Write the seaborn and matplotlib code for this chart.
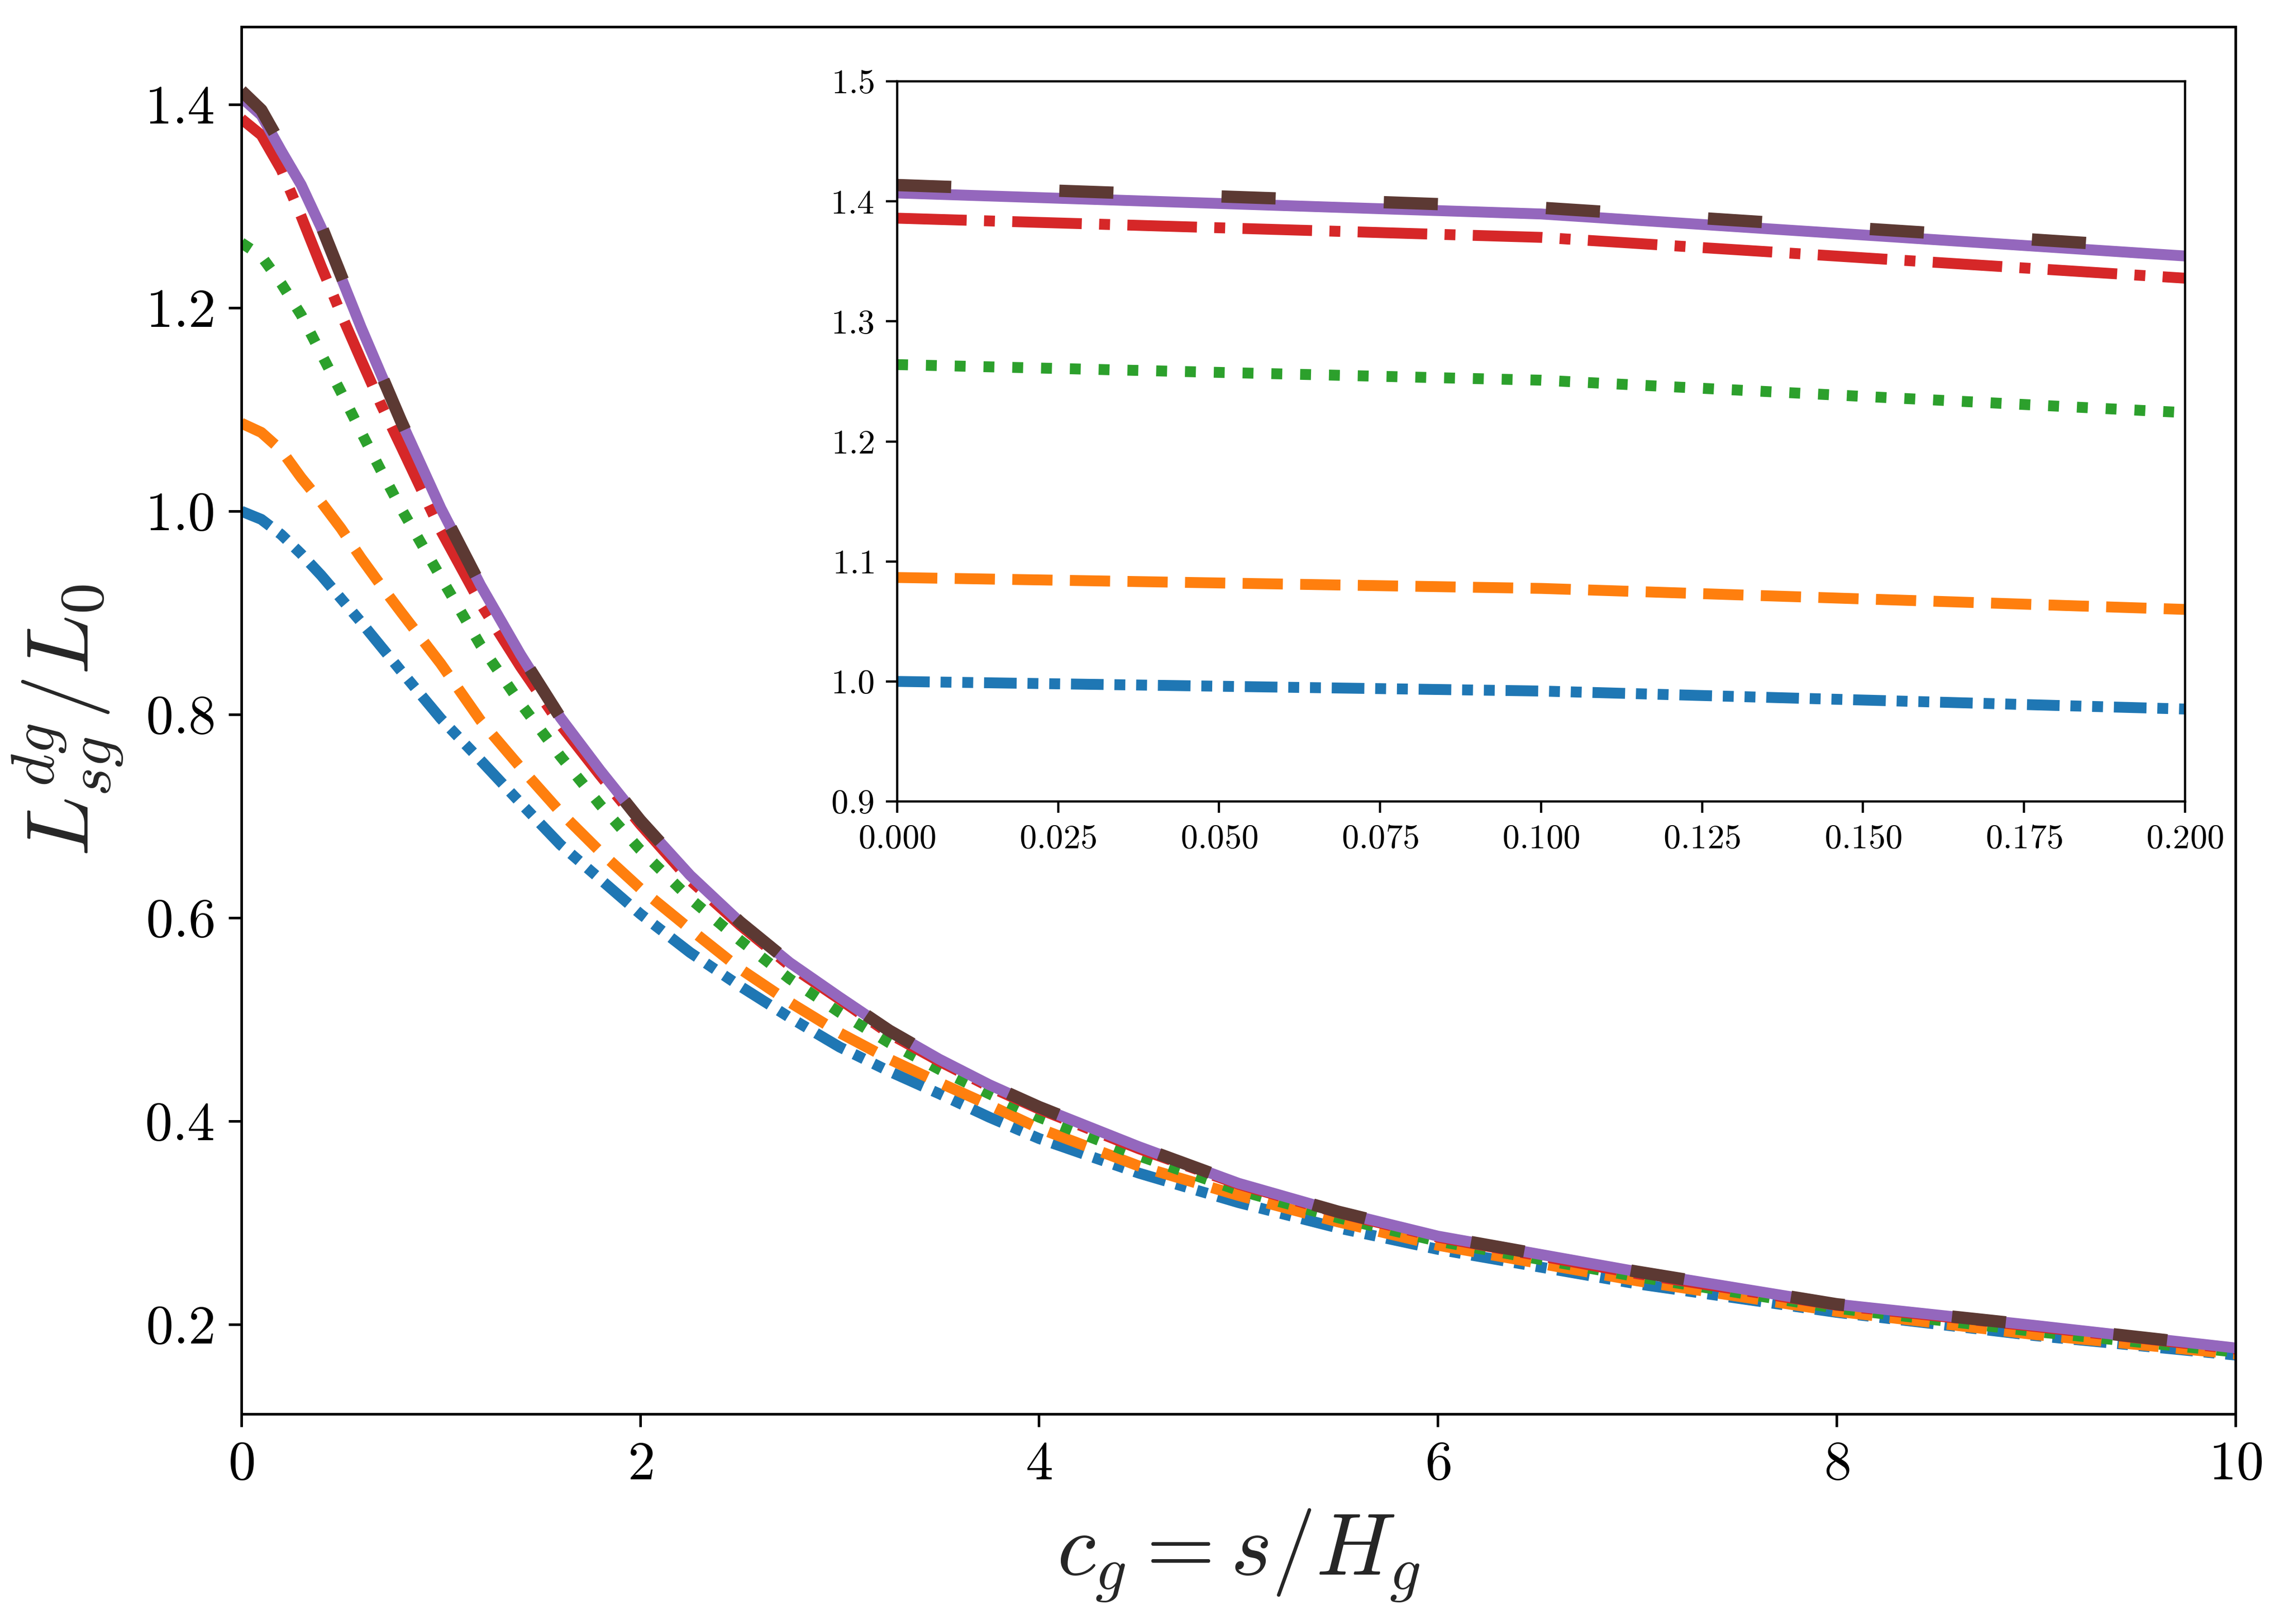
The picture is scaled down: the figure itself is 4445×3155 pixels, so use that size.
import numpy as np
import matplotlib
matplotlib.use("Agg")
import matplotlib.pyplot as plt
from matplotlib.ticker import MultipleLocator
import seaborn as sns

# ---- data ----
c_g = [0.0, 0.1, 0.2, 0.3, 0.4, 0.5, 0.6, 0.7, 0.8, 1.0, 1.2, 1.4, 1.6, 1.8,
       2.0, 2.25, 2.5, 2.75, 3.0, 3.25, 3.5, 3.75, 4.0, 4.5, 5.0, 5.5, 6.0,
       7.0, 8.0, 9.0, 10.0]

blue = [1.000, 0.992, 0.977, 0.958, 0.937, 0.914, 0.891, 0.867, 0.843, 0.796,
        0.755, 0.713, 0.672, 0.638, 0.604, 0.566, 0.533, 0.502, 0.473, 0.449,
        0.427, 0.404, 0.383, 0.349, 0.320, 0.295, 0.274, 0.240, 0.212, 0.189,
        0.170]
orange = [1.0866, 1.0775, 1.060, 1.033, 1.009, 0.983, 0.954, 0.927, 0.901,
          0.850, 0.794, 0.748, 0.704, 0.665, 0.629, 0.589, 0.550, 0.517, 0.487,
          0.461, 0.438, 0.416, 0.393, 0.356, 0.327, 0.301, 0.278, 0.243, 0.213,
          0.190, 0.171]
green = [1.264, 1.251, 1.224, 1.193, 1.155, 1.117, 1.078, 1.040, 1.003, 0.935,
         0.868, 0.811, 0.759, 0.711, 0.667, 0.619, 0.578, 0.540, 0.507, 0.477,
         0.451, 0.427, 0.404, 0.366, 0.332, 0.305, 0.282, 0.247, 0.216, 0.193,
         0.173]
red = [1.386, 1.370, 1.336, 1.290, 1.241, 1.194, 1.149, 1.105, 1.064, 0.981,
       0.909, 0.847, 0.790, 0.740, 0.692, 0.637, 0.593, 0.553, 0.520, 0.486,
       0.459, 0.434, 0.412, 0.373, 0.338, 0.310, 0.286, 0.250, 0.219, 0.198,
       0.176]
purple = [1.407, 1.3895, 1.3545, 1.321, 1.279, 1.230, 1.181, 1.135, 1.089,
          1.003, 0.927, 0.859, 0.797, 0.745, 0.696, 0.642, 0.596, 0.556, 0.522,
          0.489, 0.461, 0.436, 0.414, 0.375, 0.339, 0.311, 0.287, 0.252, 0.220,
          0.199, 0.177]
brown = [1.4136, 1.3947, 1.360, 1.324, 1.281, 1.232, 1.182, 1.135, 1.089,
         1.003, 0.927, 0.859, 0.797, 0.745, 0.696, 0.642, 0.596, 0.556, 0.522,
         0.489, 0.461, 0.436, 0.414, 0.375, 0.339, 0.311, 0.287, 0.252, 0.220,
         0.199, 0.177]

series = [blue, orange, green, red, purple, brown]
colors = ["#1f77b4", "#ff7f0e", "#2ca02c", "#d62728", "#9467bd", "#5c3933"]
styles = [(0, (3, 1, 1, 1, 1, 1)), "--", ":", "-.", "-", (0, (4.4, 8.8))]
widths = [3.8, 3.8, 3.8, 3.8, 3.8, 4.3]

xticks_main = [0, 2, 4, 6, 8, 10]
yticks_main = [0.2, 0.4, 0.6, 0.8, 1.0, 1.2, 1.4]

# ---- style ----
sns.set_style("ticks")
plt.rcParams.update({
    "font.family": ["serif"],
    "font.serif": ["cmr10"],
    "mathtext.fontset": "cm",
    "axes.formatter.use_mathtext": True,
    "axes.unicode_minus": False,
    "axes.edgecolor": "black",
    "axes.linewidth": 0.9,
    "xtick.color": "black",
    "ytick.color": "black",
    "xtick.direction": "out",
    "ytick.direction": "out",
})

fig = plt.figure(figsize=(4445 / 400, 3155 / 400), dpi=400)
ax = fig.add_axes([0.1055, 0.1293, 0.8715, 0.8542])
axins = fig.add_axes([0.3921, 0.5065, 0.5629, 0.4434])

for a in (ax, axins):
    for y, col, ls, lw in zip(series, colors, styles, widths):
        sns.lineplot(x=c_g, y=y, ax=a, color=col, linestyle=ls, linewidth=lw,
                     errorbar=None, sort=False)

ax.set_xlim(0, 10)
ax.set_ylim(0.112, 1.4765)
ax.set_xticks(xticks_main)
ax.set_yticks(yticks_main)
ax.tick_params(axis="both", which="major", labelsize=19.2, length=4.5,
               width=0.9, pad=5)
ax.set_xlabel(r"$c_g = s/H_g$", fontsize=31, labelpad=6)
ax.set_ylabel(r"$L_{sg}^{dg}/L_0$", fontsize=31, labelpad=7)

axins.set_xlim(0, 0.2)
axins.set_ylim(0.9, 1.5)
axins.xaxis.set_major_locator(MultipleLocator(0.025))
axins.yaxis.set_major_locator(MultipleLocator(0.1))
axins.tick_params(axis="both", which="major", labelsize=12, length=4.0,
                  width=0.8, pad=4)
for s in axins.spines.values():
    s.set_linewidth(0.8)
axins.set_xlabel("")
axins.set_ylabel("")

fig.savefig("out.png", dpi=400)
